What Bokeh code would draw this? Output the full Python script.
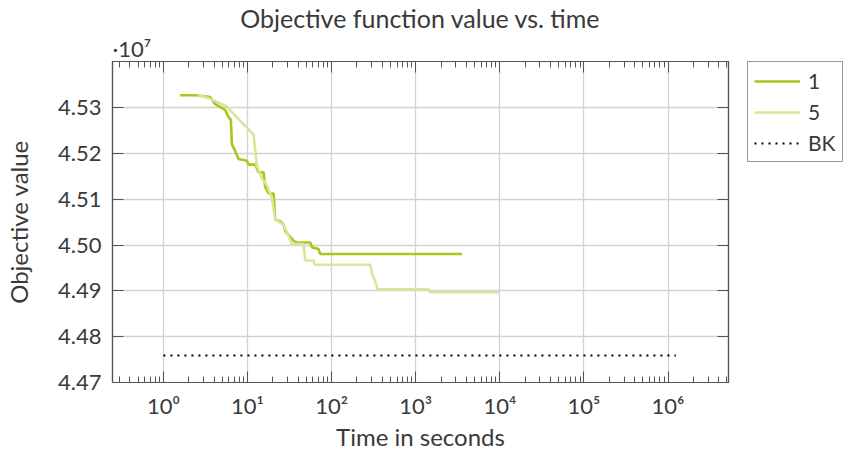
from bokeh.plotting import figure
from bokeh.layouts import row
from bokeh.models import (FixedTicker, LogAxis, LinearAxis, Legend, LegendItem, Title)
from bokeh.embed import file_html
from bokeh.resources import INLINE

# ---- data ----
t1 = [1.58, 2.38, 3.60, 4.12, 4.73, 5.43, 5.89, 6.34, 6.52, 7.14, 7.81, 9.84, 10.3, 12.4,
      13.5, 15.5, 16.2, 17.8, 20.4, 21.4, 24.5, 26.8, 28.1, 35.3, 38.7, 55.7, 58.4, 70.0,
      73.3, 3568]
v1 = [45327200, 45327200, 45323600, 45307900, 45302100, 45295100, 45280700, 45273600,
      45220100, 45205700, 45187900, 45184300, 45175700, 45175700, 45159200, 45159200,
      45127100, 45112900, 45112900, 45055700, 45052100, 45045000, 45030700, 45009300,
      45005800, 45005800, 44995100, 44991400, 44980700, 44980700]

t5 = [2.61, 3.60, 5.69, 11.8, 12.9, 14.8, 17.0, 19.5, 21.4, 26.8, 33.8, 46.4, 48.6, 61.1,
      62.8, 289, 303, 331, 353, 1429, 1468, 9730]
v5 = [45327200, 45319900, 45302100, 45241500, 45173600, 45145700, 45130700, 45102900,
      45055700, 45045000, 45002100, 45002100, 44966400, 44966400, 44957200, 44957200,
      44937900, 44920100, 44903600, 44903600, 44897200, 44897200]

bk_t = [1, 1.24e6]
bk_v = [44759000, 44759000]

xtick_values = [1, 10, 100, 1000, 10000, 100000, 1000000]
xtick_labels = ["10⁰", "10¹", "10²", "10³", "10⁴", "10⁵", "10⁶"]
ytick_values = [44700000, 44800000, 44900000, 45000000, 45100000, 45200000, 45300000]
ytick_labels = ["4.47", "4.48", "4.49", "4.50", "4.51", "4.52", "4.53"]

series_labels = ["1", "5", "BK"]
colors = ["#a6c81c", "#d6e79a", "#000000"]
title_text = "Objective function value vs. time"
scale_text = "·10⁷"

# ---- style ----
FONT = "Lato"
TXT = "#3a3a3a"
AX = "#555555"

xminor = [m * 10.0 ** k for k in range(-1, 7) for m in range(2, 10)]
xticker = FixedTicker(ticks=xtick_values, minor_ticks=xminor)
yticker = FixedTicker(ticks=ytick_values)

H = 453
PW = 736
LW = 848 - PW
BL, BR, BT, BB = 112, 8, 54, 71

# ---- main plot ----
p = figure(x_axis_type="log", x_range=(0.248, 5.24e6), y_range=(44700000, 45401000),
           width=PW, height=H, title=title_text,
           min_border_left=BL, min_border_right=BR, min_border_top=BT, min_border_bottom=BB,
           output_backend="svg", toolbar_location=None)
p.title.align = "center"
p.title.text_font = FONT
p.title.text_font_size = "25px"
p.title.text_font_style = "normal"
p.title.text_color = TXT
p.title.standoff = 0
p.title.text_line_height = 0.85
p.outline_line_color = AX
p.outline_line_width = 1.2

def style_axis(ax, labels=True):
    ax.axis_line_color = AX
    ax.axis_line_width = 1.2
    ax.major_tick_line_color = AX
    ax.minor_tick_line_color = AX
    ax.major_tick_in = 11
    ax.major_tick_out = 0
    ax.minor_tick_in = 6
    ax.minor_tick_out = 0
    ax.major_label_text_font = FONT
    ax.major_label_text_color = TXT
    ax.major_label_text_font_size = "22px" if labels else "1px"
    ax.axis_label_text_font = FONT
    ax.axis_label_text_color = TXT
    ax.axis_label_text_font_size = "24px"
    ax.axis_label_text_font_style = "normal"

xa = p.xaxis[0]
xa.ticker = xticker
xa.major_label_overrides = dict(zip(xtick_values, xtick_labels))
xa.axis_label = "Time in seconds"
style_axis(xa)
xa.major_label_standoff = 9
xa.axis_label_standoff = 0

ya = p.yaxis[0]
ya.ticker = yticker
ya.major_label_overrides = dict(zip(ytick_values, ytick_labels))
ya.axis_label = "Objective value"
style_axis(ya)
ya.minor_tick_in = 0
ya.major_label_standoff = 11
ya.axis_label_standoff = 22

top = LogAxis(ticker=xticker)
style_axis(top, labels=False)
top.major_label_overrides = {v: "" for v in xtick_values}
top.major_label_standoff = 0
p.add_layout(top, "above")

sub = Title(text=scale_text, align="left", standoff=0, text_font=FONT,
            text_font_size="22px", text_font_style="normal", text_color=TXT,
            text_line_height=0.85)
p.add_layout(sub, "above")

right = LinearAxis(ticker=yticker)
style_axis(right, labels=False)
right.major_label_overrides = {v: "" for v in ytick_values}
right.minor_tick_in = 0
right.major_label_standoff = 0
p.add_layout(right, "right")

p.xgrid.ticker = xticker
p.ygrid.ticker = yticker
for g in (p.xgrid[0], p.ygrid[0]):
    g.grid_line_color = "#d2d2d2"
    g.grid_line_width = 1.3

r1 = p.line(t1, v1, line_color=colors[0], line_width=2.6)
r5 = p.line(t5, v5, line_color=colors[1], line_width=2.6)
rbk = p.line(bk_t, bk_v, line_color=colors[2], line_width=2.2, line_dash="2 5")

# ---- legend strip (same series styles; data lies outside this strip's ranges) ----
q = figure(width=LW, height=H, x_range=(0, 1), y_range=(0, 1), title=None,
           x_axis_location=None, y_axis_location=None,
           min_border_left=11, min_border_top=BT, min_border_right=0, min_border_bottom=0,
           output_backend="svg", toolbar_location=None)
q.outline_line_color = None
q.grid.visible = False
q1 = q.line(t1, v1, line_color=colors[0], line_width=2.6)
q5 = q.line(t5, v5, line_color=colors[1], line_width=2.6)
qbk = q.line(bk_t, bk_v, line_color=colors[2], line_width=2.2, line_dash="2 5")

legend = Legend(items=[LegendItem(label=series_labels[0], renderers=[q1]),
                       LegendItem(label=series_labels[1], renderers=[q5]),
                       LegendItem(label=series_labels[2], renderers=[qbk])],
                location="top_left")
legend.border_line_color = "#333333"
legend.border_line_width = 1
legend.padding = 6
legend.spacing = 6
legend.glyph_width = 46
legend.glyph_height = 24
legend.label_height = 24
legend.label_standoff = 8
legend.label_text_font = FONT
legend.label_text_font_size = "21px"
legend.label_text_color = TXT
legend.margin = 0
q.add_layout(legend)

layout = row(p, q)
open("out.html", "w").write(file_html(layout, INLINE))
